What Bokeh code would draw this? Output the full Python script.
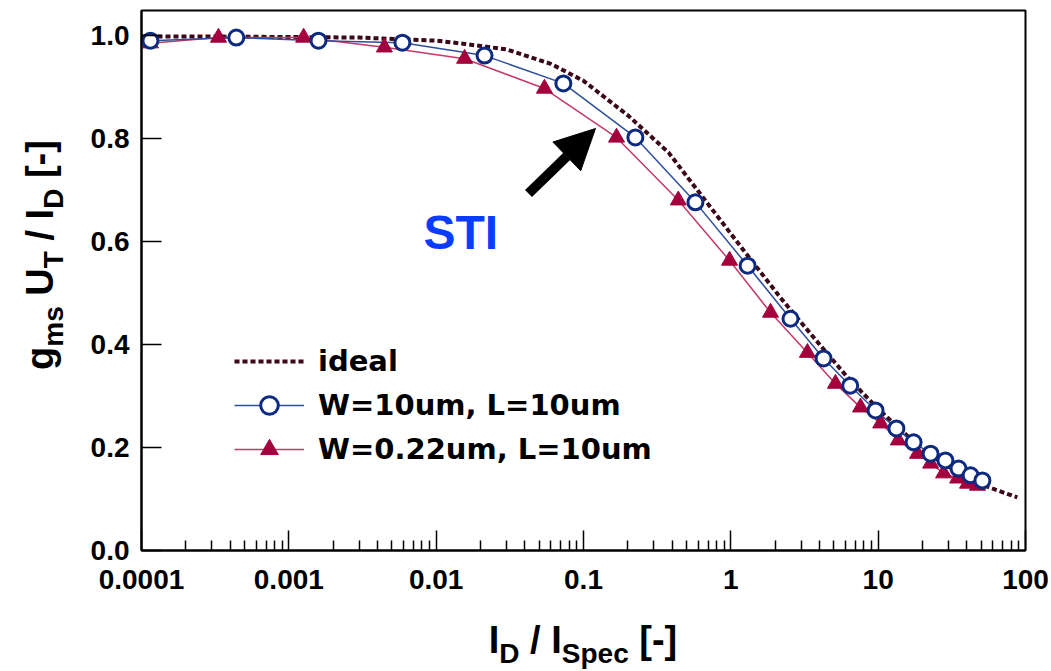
import math
from bokeh.plotting import figure
from bokeh.layouts import row, column
from bokeh.models import (Range1d, FixedTicker, CustomJSTickFormatter, PrintfTickFormatter,
                          Legend, LegendItem, Label, Arrow, NormalHead, Div)
from bokeh.embed import file_html
from bokeh.resources import INLINE

# ---------------- data ----------------
ideal_x = [1e-4, 3e-4, 1e-3, 3e-3, 0.01, 0.0153, 0.03, 0.06, 0.1, 0.2, 0.377, 0.695,
           1.22, 2.17, 3.64, 6.2, 10, 20, 40, 60, 88]
ideal_y = [0.998, 0.998, 0.997, 0.996, 0.99, 0.984, 0.973, 0.945, 0.912, 0.845, 0.773, 0.674,
           0.583, 0.491, 0.414, 0.336, 0.275, 0.195, 0.14, 0.12, 0.103]

w10_x = [1.15e-4, 4.4e-4, 1.59e-3, 5.9e-3, 0.0213, 0.073, 0.225, 0.575, 1.30, 2.54,
         4.26, 6.46, 9.6, 13.3, 17.4, 22.7, 28.6, 35.1, 42.4, 51]
w10_y = [0.990, 0.996, 0.990, 0.986, 0.961, 0.907, 0.802, 0.676, 0.553, 0.450,
         0.373, 0.320, 0.272, 0.237, 0.210, 0.188, 0.175, 0.159, 0.146, 0.136]

w022_x = [1.15e-4, 3.33e-4, 1.26e-3, 4.45e-3, 0.0156, 0.0543, 0.1675, 0.44, 0.98, 1.86,
          3.31, 5.13, 7.59, 10.4, 13.7, 18.5, 22.7, 27.8, 34.6, 40.4, 47.2]
w022_y = [0.985, 0.996, 0.996, 0.977, 0.955, 0.897, 0.802, 0.68, 0.563, 0.462,
          0.384, 0.324, 0.278, 0.247, 0.214, 0.188, 0.169, 0.150, 0.140, 0.130, 0.126]

series_labels = ["ideal", "W=10um, L=10um", "W=0.22um, L=10um"]
x_ticks = [1e-4, 1e-3, 1e-2, 1e-1, 1, 10, 100]
x_minor_ticks = [m * d for d in [1e-4, 1e-3, 1e-2, 1e-1, 1, 10] for m in range(2, 10)]
y_ticks = [0.0, 0.2, 0.4, 0.6, 0.8, 1.0]
annotation_text = "STI"
x_title_html = "I<span class='s'>D</span> / I<span class='s'>Spec</span> [-]"
y_title_html = "g<span class='s'>ms</span> U<span class='s'>T</span> / I<span class='s'>D</span> [-]"

# ---------------- layout (canvas pixels) ----------------
YDIV_W = 70              # width of the column holding the y title
FL, FR, FT, FB = 141, 1025, 10, 550   # frame edges in window pixels
FIG_W, FIG_H = 1051 - YDIV_W, 611
DEC = (FR - FL) / 6.0
YMAX = (FB - FT) / 515.0


def px_x(px):
    return 10 ** (-4 + (px - FL) / DEC)


def px_y(py):
    return (FB - py) / 515.0


p = figure(width=FIG_W, height=FIG_H, x_axis_type="log",
           x_range=Range1d(1e-4, 100), y_range=Range1d(0, YMAX),
           output_backend="svg", toolbar_location=None,
           min_border_left=FL - YDIV_W, min_border_right=1051 - FR,
           min_border_top=FT, min_border_bottom=FIG_H - FB, margin=0)
p.grid.visible = False
p.background_fill_color = "white"
p.border_fill_color = "white"
p.outline_line_color = "black"
p.outline_line_width = 2
p.outline_line_alpha = 1.0

IDEAL_C = "#3a0818"
BLUE_M = "#0b2a80"
BLUE_L = "#2e4f9f"
RED_M = "#a3003d"
RED_L = "#c43a62"

r_ideal = p.line(ideal_x, ideal_y, line_color=IDEAL_C, line_width=4, line_dash="5 3")
r_red_l = p.line(w022_x, w022_y, line_color=RED_L, line_width=1.5)
r_blue_l = p.line(w10_x, w10_y, line_color=BLUE_L, line_width=1.5)
r_red_m = p.scatter(w022_x, w022_y, marker="triangle", size=16,
                    fill_color=RED_M, line_color=RED_M, line_width=1)
r_blue_m = p.scatter(w10_x, w10_y, marker="circle", size=15,
                     fill_color="white", line_color=BLUE_M, line_width=3)

legend = Legend(items=[
    LegendItem(label=series_labels[0], renderers=[r_ideal]),
    LegendItem(label=series_labels[1], renderers=[r_blue_l, r_blue_m]),
    LegendItem(label=series_labels[2], renderers=[r_red_l, r_red_m]),
], location=(234 - FL, FB - 471))
legend.border_line_color = None
legend.background_fill_alpha = 0
legend.padding = 0
legend.margin = 0
legend.spacing = 0
legend.glyph_width = 70
legend.glyph_height = 44
legend.label_height = 44
legend.label_standoff = 14
legend.label_text_font = "DejaVu Sans"
legend.label_text_font_style = "bold"
legend.label_text_font_size = "29px"
legend.label_text_color = "black"
p.add_layout(legend)

# ---------------- axes ----------------
xa = p.xaxis[0]
xa.ticker = FixedTicker(ticks=x_ticks, minor_ticks=x_minor_ticks)
xa.formatter = CustomJSTickFormatter(
    code="return tick >= 1 ? tick.toFixed(0) : String(Number(tick.toPrecision(1)));")
ya = p.yaxis[0]
ya.ticker = FixedTicker(ticks=y_ticks)
ya.formatter = PrintfTickFormatter(format="%.1f")

for ax in (xa, ya):
    ax.axis_line_color = "black"
    ax.axis_line_width = 2
    ax.major_tick_line_color = "black"
    ax.major_tick_line_width = 1.5
    ax.minor_tick_line_color = "black"
    ax.minor_tick_line_width = 1.5
    ax.major_tick_in = 20
    ax.major_tick_out = 0
    ax.major_label_text_font = "Liberation Sans"
    ax.major_label_text_font_style = "bold"
    ax.major_label_text_font_size = "28px"
    ax.major_label_text_color = "black"
xa.minor_tick_in = 10
xa.minor_tick_out = 0
ya.minor_tick_in = 0
ya.minor_tick_out = 0
xa.major_label_standoff = 19
ya.major_label_standoff = 12

# ---------------- annotation ----------------
p.add_layout(Label(x=px_x(423), y=px_y(232), text=annotation_text,
                   text_font="Liberation Sans", text_font_style="bold",
                   text_font_size="48px", text_color="#0a3cff",
                   text_baseline="alphabetic", text_align="left"))
p.add_layout(Arrow(end=NormalHead(size=40, fill_color="black", line_color="black"),
                   x_start=px_x(528), y_start=px_y(193),
                   x_end=px_x(595), y_end=px_y(128),
                   line_color="black", line_width=10))

# ---------------- axis titles as HTML (real text with subscripts) ----------------
STYLE = ("<style>.t{position:absolute;white-space:nowrap;font-family:'Liberation Sans',Arial,sans-serif;"
         "font-weight:bold;font-size:38px;line-height:1;color:black;}"
         ".s{font-size:28px;vertical-align:-10px;line-height:0;}</style>")


def title_div(html, w, h, cx, cy, rotate):
    tr = "translate(-50%,-50%)" + (" rotate(-90deg)" if rotate else "")
    return Div(width=w, height=h, margin=0,
               text=(STYLE + f"<div style='position:relative;width:{w}px;height:{h}px;overflow:visible;'>"
                     f"<span class='t' style='left:{cx}px;top:{cy}px;transform:{tr};'>{html}</span></div>"))


ydiv = title_div(y_title_html, YDIV_W, FIG_H, 40, 255, True)
xdiv = title_div(x_title_html, FIG_W, 671 - FIG_H, 583 - YDIV_W, 640 - FIG_H, False)

layout = row(ydiv, column(p, xdiv, spacing=0, margin=0), spacing=0, margin=0)

open("out.html", "w").write(file_html(layout, INLINE))
